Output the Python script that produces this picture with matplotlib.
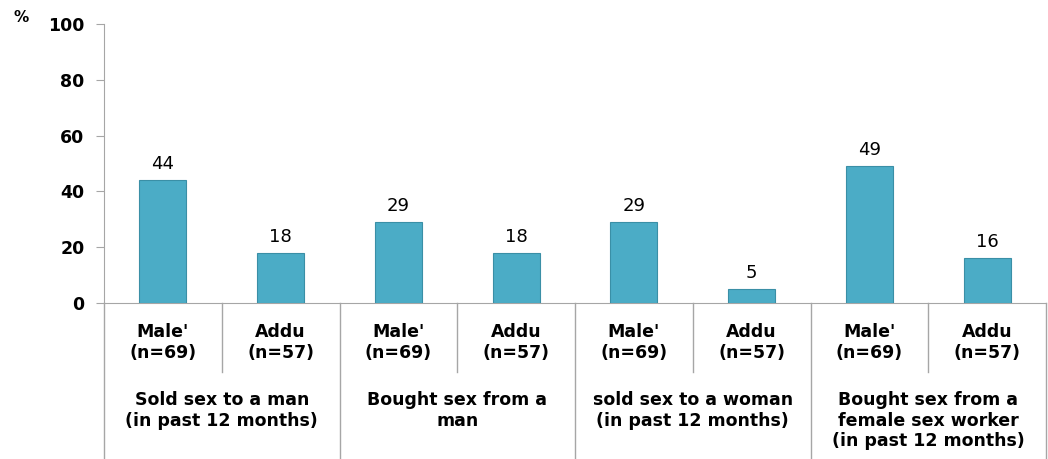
import matplotlib
matplotlib.use("Agg")
from matplotlib import pyplot as plt
import numpy as np

plt.rcParams['font.family'] = ['DejaVu Sans']

sites = ["Male'\n(n=69)", "Addu\n(n=57)"] * 4
groups = ["Sold sex to a man\n(in past 12 months)",
          "Bought sex from a\nman",
          "sold sex to a woman\n(in past 12 months)",
          "Bought sex from a\nfemale sex worker\n(in past 12 months)"]
values = [44, 18, 29, 18, 29, 5, 49, 16]

grey = "#A6A6A6"

fig = plt.figure(figsize=(10.48, 4.59), dpi=100)
ax = fig.add_axes([104/1048, 1-303/459, 942/1048, 279/459])

x = np.arange(len(values))
bars = ax.bar(x, values, width=0.4, color="#4BACC6", edgecolor="#3A8FA6", linewidth=0.8, zorder=3)
for xi, v in zip(x, values):
    ax.text(xi, v + 2.6, str(v), ha="center", va="bottom", fontsize=13)

ax.set_xlim(-0.5, len(values) - 0.5)
ax.set_ylim(0, 100)
ax.set_yticks(range(0, 101, 20))
ax.set_yticklabels([str(t) for t in range(0, 101, 20)], fontsize=12.5, fontweight="bold")
ax.tick_params(axis="y", length=6, color=grey, pad=8)
ax.set_xticks([])

for s in ["top", "right"]:
    ax.spines[s].set_visible(False)
ax.spines["left"].set_color(grey)
ax.spines["bottom"].set_color(grey)

tr = ax.get_xaxis_transform()
# separators under the axis
for g in range(len(groups)):
    ax.plot([2 * g + 0.5] * 2, [0, -0.247], transform=tr, color=grey, lw=1, clip_on=False)
for b in np.arange(-0.5, len(values), 2):
    ax.plot([b, b], [0, -0.56], transform=tr, color=grey, lw=1, clip_on=False)

for xi, s in zip(x, sites):
    ax.text(xi, -0.142, s, transform=tr, ha="center", va="center",
            fontsize=12.5, fontweight="bold", linespacing=1.2)
for g, s in enumerate(groups):
    ax.text(2 * g + 0.5, -0.315, s, transform=tr, ha="center", va="top",
            fontsize=12.5, fontweight="bold", linespacing=1.2)

fig.text(13/1048, 1-17/459, "%", fontsize=11, fontweight="bold", va="center")

fig.savefig("out.png", dpi=100)
